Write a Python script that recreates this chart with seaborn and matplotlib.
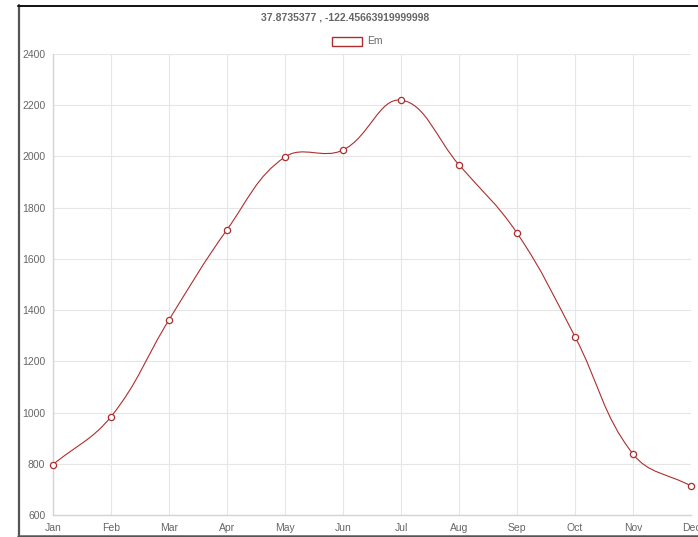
import numpy as np
import matplotlib
matplotlib.use("Agg")
import matplotlib.pyplot as plt
from matplotlib.path import Path
from matplotlib.patches import PathPatch, Rectangle
from matplotlib.lines import Line2D
import seaborn as sns
import pandas as pd

months = ["Jan", "Feb", "Mar", "Apr", "May", "Jun",
          "Jul", "Aug", "Sep", "Oct", "Nov", "Dec"]
em_values = [797, 984, 1362, 1714, 1998, 2025, 2220, 1967, 1701, 1296, 838, 713]
y_ticks = [600, 800, 1000, 1200, 1400, 1600, 1800, 2000, 2200, 2400]
title_text = "37.8735377 , -122.45663919999998"
series_name = "Em"

LINE = "#ad2e2e"
GRID = "#e6e6e6"
TEXT = "#666666"

sns.set_theme(style="white")
plt.rcParams["font.family"] = ["Liberation Sans", "DejaVu Sans"]

W, H = 698, 537
fig = plt.figure(figsize=(W / 100, H / 100), dpi=100)
ax = fig.add_axes([53 / W, 1 - 515 / H, (691 - 53) / W, (515 - 54) / H])

df = pd.DataFrame({"x": np.arange(len(months)), "y": em_values})
ax.set_xlim(0, len(months) - 1)
ax.set_ylim(y_ticks[0], y_ticks[-1])

# Cardinal spline through the points (tension 0.4), computed in pixel space
tension = 0.4
pts = ax.transData.transform(np.column_stack([df["x"], df["y"]]))
n = len(pts)
cp_prev = np.zeros_like(pts)
cp_next = np.zeros_like(pts)
for i in range(n):
    cur = pts[i]
    prv = pts[i - 1] if i > 0 else cur
    nxt = pts[i + 1] if i < n - 1 else cur
    d01 = np.hypot(*(cur - prv))
    d12 = np.hypot(*(nxt - cur))
    tot = d01 + d12
    s01 = d01 / tot if tot else 0
    s12 = d12 / tot if tot else 0
    cp_prev[i] = cur - tension * s01 * (nxt - prv)
    cp_next[i] = cur + tension * s12 * (nxt - prv)

verts = [pts[0]]
codes = [Path.MOVETO]
for i in range(n - 1):
    verts += [cp_next[i], cp_prev[i + 1], pts[i + 1]]
    codes += [Path.CURVE4] * 3
verts = ax.transData.inverted().transform(np.array(verts))
ax.add_patch(PathPatch(Path(verts, codes), facecolor="none",
                       edgecolor=LINE, lw=0.8, zorder=3, clip_on=False))

sns.scatterplot(data=df, x="x", y="y", ax=ax, s=20, marker="o",
                facecolor="white", edgecolor=LINE, linewidth=0.9,
                zorder=4, clip_on=False, legend=False)

ax.set_xticks(range(len(months)))
ax.set_xticklabels(months)
ax.set_yticks(y_ticks)
ax.set_xlabel("")
ax.set_ylabel("")
ax.grid(True, color=GRID, lw=0.8)
ax.set_axisbelow(True)
for side in ["top", "right"]:
    ax.spines[side].set_visible(False)
ax.spines["left"].set_color("#d4d4d4")
ax.spines["bottom"].set_color("#d4d4d4")
ax.spines["left"].set_linewidth(1.0)
ax.spines["bottom"].set_linewidth(1.0)
ax.tick_params(axis="both", colors=GRID, length=4.5, width=0.8,
               labelcolor=TEXT, labelsize=7.5, pad=1)

# Title and legend
fig.text(345 / W, 1 - 17 / H, title_text, ha="center", va="center",
         fontsize=7.5, fontweight="bold", color=TEXT)
fig.patches.append(Rectangle((332 / W, 1 - 46 / H), 30 / W, 9 / H,
                             transform=fig.transFigure, facecolor="white",
                             edgecolor=LINE, lw=1.0))
fig.text(367 / W, 1 - 41.5 / H, series_name, ha="left", va="center",
         fontsize=7.5, color=TEXT)

# Outer frame
fig.lines.append(Line2D([19 / W, 19 / W], [1 - 5 / H, 1 - 535 / H],
                        transform=fig.transFigure, color="#555555", lw=1.6))
fig.lines.append(Line2D([18 / W, 1.0], [1 - 5.5 / H, 1 - 5.5 / H],
                        transform=fig.transFigure, color="#111111", lw=1.4))
fig.lines.append(Line2D([18 / W, 1.0], [1 - 535.5 / H, 1 - 535.5 / H],
                        transform=fig.transFigure, color="#555555", lw=1.8))

fig.savefig("out.png", dpi=100)
